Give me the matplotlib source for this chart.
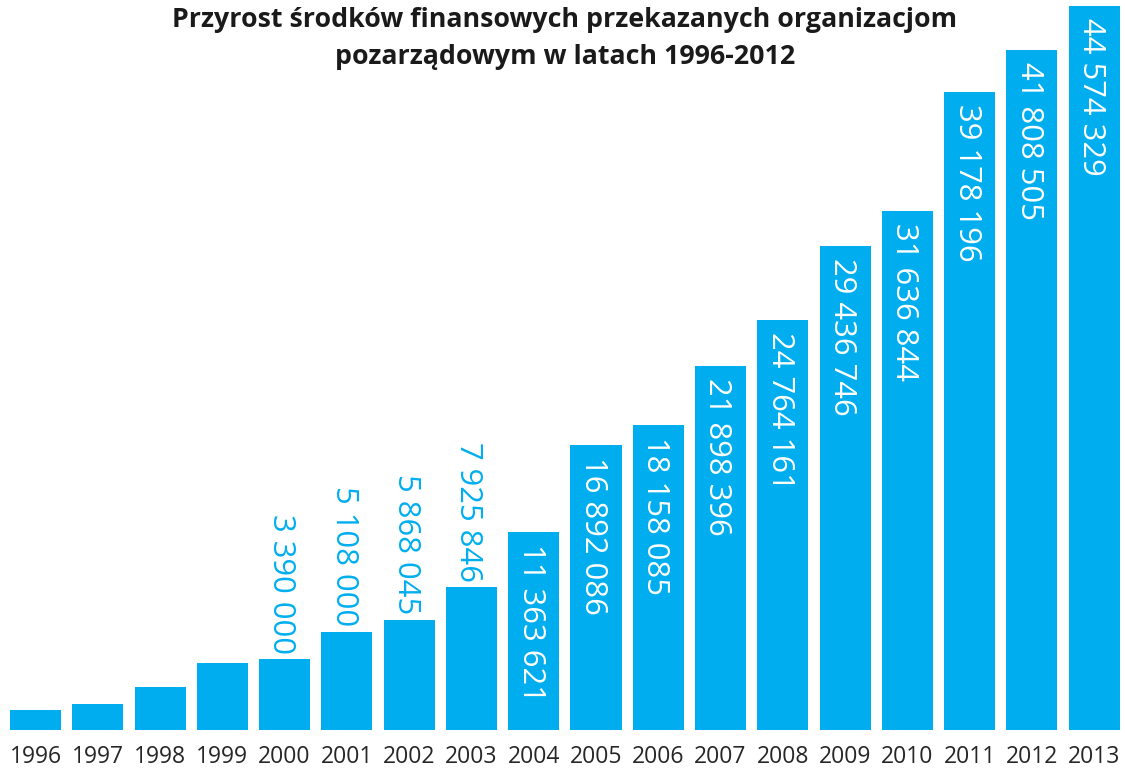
"""
Przyrost srodkow finansowych dla organizacji pozarzadowych - wykres slupkowy.
"""

from matplotlib import pyplot as plt
import numpy as np

years = ['1996', '1997', '1998', '1999', '2000', '2001', '2002', '2003', '2004',
         '2005', '2006', '2007', '2008', '2009', '2010', '2011', '2012', '2013']
values = [160000, 540000, 1600000, 3120000, 3390000, 5108000, 5868045, 7925846,
          11363621, 16892086, 18158085, 21898396, 24764161, 29436746, 31636844,
          39178196, 41808505, 44574329]
labelled = [False] * 4 + [True] * 14
inside = [False] * 8 + [True] * 10

BLUE = '#00AEEF'
plt.rcParams['font.family'] = ['Open Sans', 'DejaVu Sans']

fig = plt.figure(figsize=(11.25, 7.71), dpi=100)
ax = fig.add_axes([4.35 / 1125, 41 / 771, 1121 / 1125, 730 / 771])

# the original chart's bars start a bit below zero
y0, y1 = -1.1e6, 44.96e6
x = np.arange(len(years))
ax.bar(x, np.array(values) - y0, bottom=y0, width=0.82, color=BLUE)
ax.set_xlim(-0.5, len(years) - 0.5)
ax.set_ylim(y0, y1)

px = 730 / (y1 - y0)  # data units -> pixels
for xi, v, lab, ins in zip(x, values, labelled, inside):
    if not lab:
        continue
    txt = f"{v:,}".replace(',', ' ')
    if ins:
        ax.text(xi - 0.05, v - 12 / px, txt, rotation=270, ha='left', va='center',
                color='white', fontsize=22.3, rotation_mode='anchor')
    else:
        ax.text(xi - 0.05, v + 5 / px, txt, rotation=270, ha='right', va='center',
                color=BLUE, fontsize=22.3, rotation_mode='anchor')

ax.set_xticks(x)
ax.set_xticklabels(years, fontsize=16.5, color='#262626')
ax.tick_params(axis='x', length=0, pad=11)
ax.set_yticks([])
for s in ax.spines.values():
    s.set_visible(False)

fig.text(0.502, 1 - 20 / 771, 'Przyrost środków finansowych przekazanych organizacjom',
         ha='center', va='center', fontsize=19.3, fontweight='bold', color='#1a1a1a')
fig.text(0.502, 1 - 57 / 771, 'pozarządowym w latach 1996-2012',
         ha='center', va='center', fontsize=19.3, fontweight='bold', color='#1a1a1a')

fig.savefig('out.png', dpi=100)
